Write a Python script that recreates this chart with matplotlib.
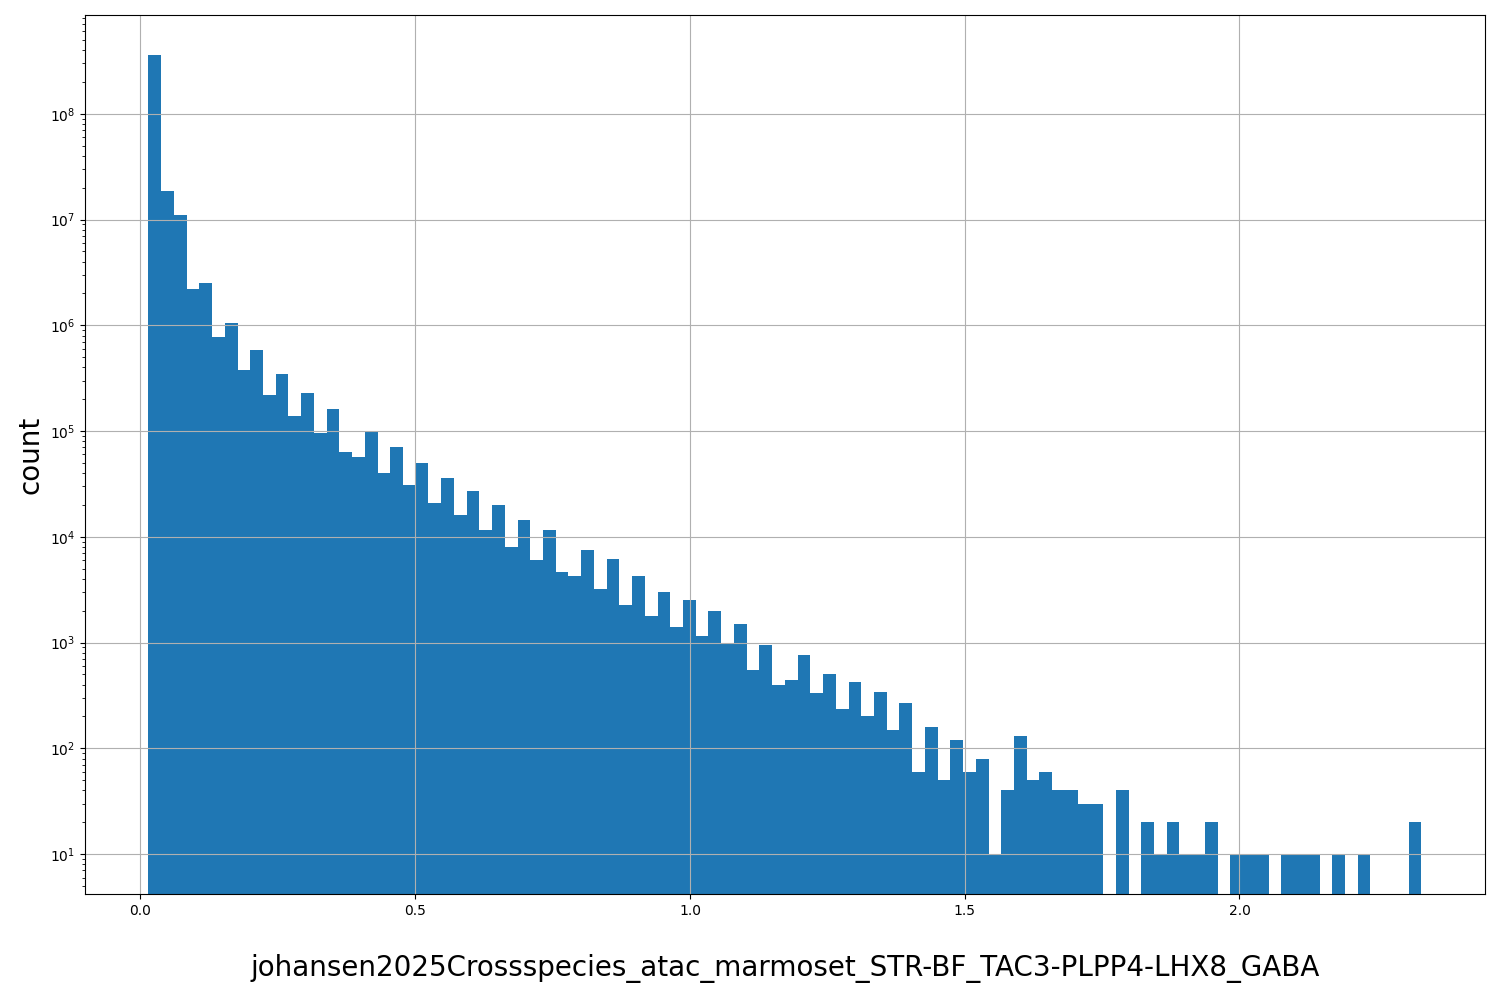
import numpy as np
import matplotlib.pyplot as plt

# histogram bin counts (100 bins)
bin_start = 0.0145
bin_stop = 2.331
counts = [
    3.6e8, 1.88e7, 1.1e7, 2.2e6, 2.5e6, 7.7e5, 1.05e6, 3.8e5, 5.8e5, 2.2e5,
    3.5e5, 1.4e5, 2.3e5, 9.5e4, 1.6e5, 6.4e4, 5.7e4, 9.7e4, 4.0e4, 7.0e4,
    3.1e4, 5.0e4, 2.1e4, 3.6e4, 1.6e4, 2.7e4, 1.17e4, 2.0e4, 8.0e3, 1.45e4,
    6.0e3, 1.15e4, 4.6e3, 4.3e3, 7.5e3, 3.2e3, 6.1e3, 2.25e3, 4.3e3, 1.8e3,
    3.0e3, 1.4e3, 2.5e3, 1.15e3, 2.0e3, 1.0e3, 1.5e3, 550, 950, 400,
    440, 770, 330, 500, 235, 420, 200, 340, 150, 270,
    60, 160, 50, 120, 60, 80, 10, 40, 130, 50,
    60, 40, 40, 30, 30, 0, 40, 0, 20, 10,
    20, 10, 10, 20, 0, 10, 10, 10, 0, 10,
    10, 10, 0, 10, 0, 10, 0, 0, 0, 20,
]
label = 'johansen2025Crossspecies_atac_marmoset_STR-BF_TAC3-PLPP4-LHX8_GABA'

edges = np.linspace(bin_start, bin_stop, len(counts) + 1)
centers = (edges[:-1] + edges[1:]) / 2

fig = plt.figure(figsize=(15, 10), dpi=100)
ax = fig.add_axes([0.0565, 0.106, 0.9335, 0.879])
ax.hist(centers, bins=edges, weights=counts, color='#1f77b4')
ax.set_yscale('log')
ax.set_xticks([0.0, 0.5, 1.0, 1.5, 2.0])
ax.set_xlabel(label, fontsize=20, labelpad=26)
ax.set_ylabel('count', fontsize=20)
ax.grid(True)
fig.savefig('out.png')
